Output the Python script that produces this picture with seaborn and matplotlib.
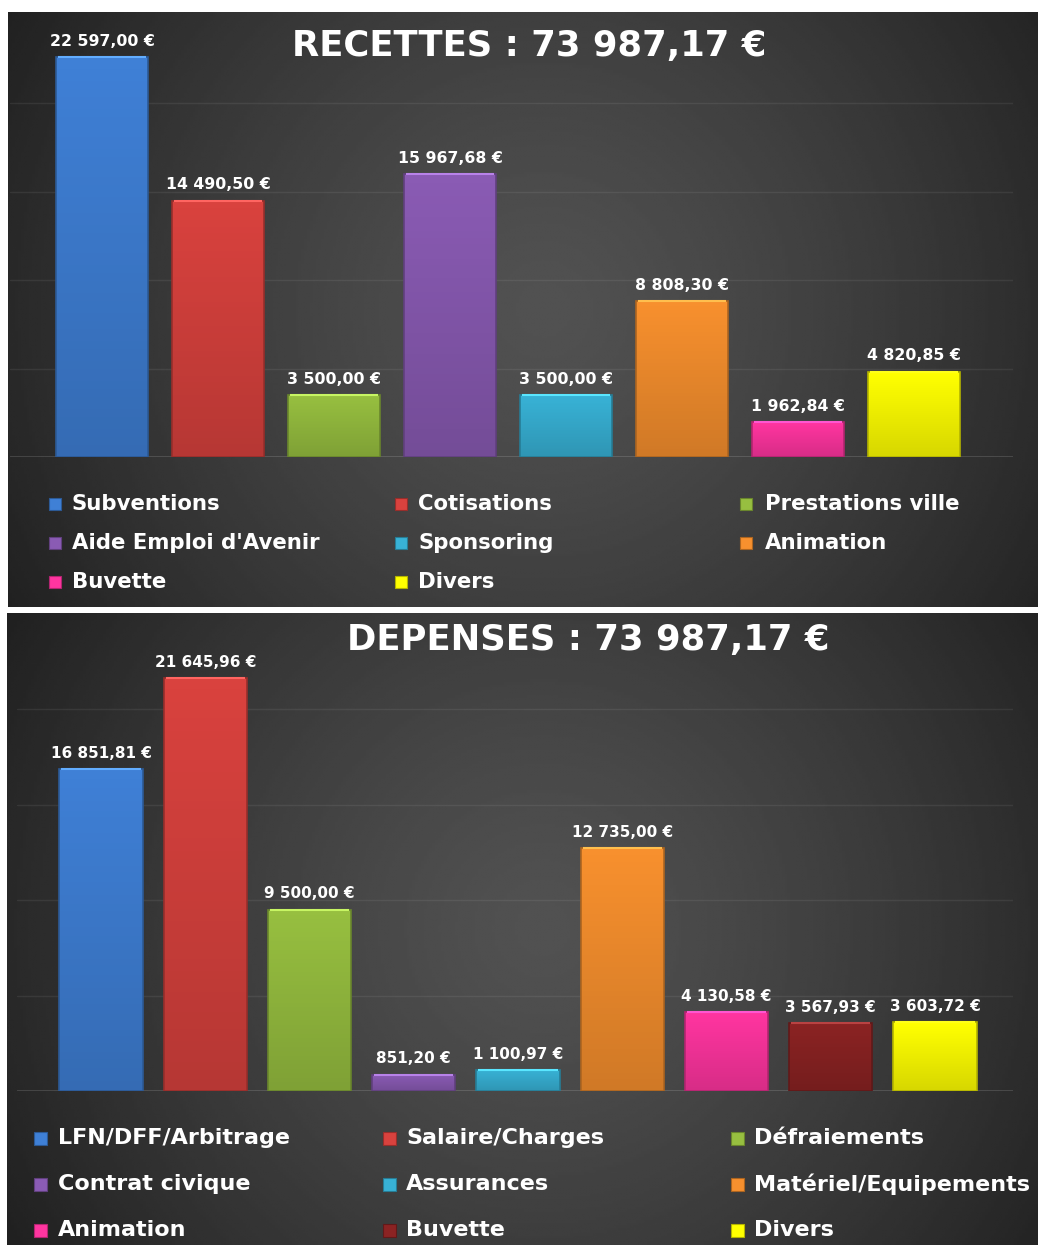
import numpy as np
import pandas as pd
import matplotlib
matplotlib.use("Agg")
import matplotlib.pyplot as plt
import seaborn as sns
from matplotlib.patches import Rectangle
from matplotlib.colors import to_rgb, LinearSegmentedColormap

# ---------------- data ----------------
rec_title = "RECETTES : 73 987,17 €"
rec_cats = ["Subventions", "Cotisations", "Prestations ville", "Aide Emploi d'Avenir",
            "Sponsoring", "Animation", "Buvette", "Divers"]
rec_vals = [22597.00, 14490.50, 3500.00, 15967.68, 3500.00, 8808.30, 1962.84, 4820.85]
rec_colors = ["#3F80D6", "#D9423E", "#97BF40", "#8A5BB4", "#38B2D6", "#F7902E", "#FF35A0", "#FFFF00"]

dep_title = "DEPENSES : 73 987,17 €"
dep_cats = ["LFN/DFF/Arbitrage", "Salaire/Charges", "Défraiements", "Contrat civique",
            "Assurances", "Matériel/Equipements", "Animation", "Buvette", "Divers"]
dep_vals = [16851.81, 21645.96, 9500.00, 851.20, 1100.97, 12735.00, 4130.58, 3567.93, 3603.72]
dep_colors = ["#3F80D6", "#D9423E", "#97BF40", "#8A5BB4", "#38B2D6", "#F7902E", "#FF35A0", "#8B2323", "#FFFF00"]

grid_ticks = [0, 5000, 10000, 15000, 20000]

sns.set_theme(style="white")
FONT = ["DejaVu Sans"]
plt.rcParams["font.family"] = FONT

W, H = 1038, 1245
fig = plt.figure(figsize=(W / 100, H / 100), dpi=100, facecolor="white")


def px_axes(x0, y0, x1, y1, z=1):
    ax = fig.add_axes([x0 / W, 1 - y1 / H, (x1 - x0) / W, (y1 - y0) / H])
    ax.set_zorder(z)
    return ax


def fx(x):
    return x / W


def fy(y):
    return 1 - y / H


def background(x0, y0, x1, y1):
    ax = px_axes(x0, y0, x1, y1, z=0)
    ny, nx = 240, 360
    yy, xx = np.mgrid[0:1:ny * 1j, 0:1:nx * 1j]
    w, h = x1 - x0, y1 - y0
    d = np.sqrt(((xx - 0.52) * w) ** 2 + ((yy - 0.5) * h) ** 2) / (0.62 * w)
    d = np.clip(d, 0, 1)
    val = 0.32 - (0.32 - 0.12) * d ** 1.3
    ax.imshow(val, cmap="gray", vmin=0, vmax=1, aspect="auto", extent=[0, 1, 0, 1],
              interpolation="bilinear")
    ax.set_axis_off()


def fmt(v):
    s = f"{v:,.2f}"
    return s.replace(",", " ").replace(".", ",") + " €"


shade = LinearSegmentedColormap.from_list("g", [(0, 0, 0, 0.0), (0, 0, 0, 0.16)])


def draw_panel(cats, vals, colors, title, box, plot_box, centers, legend_rows,
               legend_cols, title_xy, title_size, label_size, legend_size, marker):
    background(*box)
    ax = px_axes(*plot_box, z=1)
    ax.patch.set_alpha(0)
    df = pd.DataFrame({"cat": cats, "val": vals})
    sns.barplot(data=df, x="cat", y="val", hue="cat", palette=colors, width=0.8,
                legend=False, ax=ax, saturation=1, edgecolor="none")
    n = len(cats)
    x0p, _, x1p, _ = plot_box
    c0, step = centers
    xmin = -(c0 - x0p) / step
    xmax = (n - 1) + (x1p - (c0 + step * (n - 1))) / step
    ax.set_yticks(grid_ticks)
    ax.set_yticklabels([])
    ax.set_xticks([])
    ax.set_xlabel("")
    ax.set_ylabel("")
    for s in ax.spines.values():
        s.set_visible(False)
    ax.grid(axis="y", color="white", alpha=0.07, linewidth=1)
    ax.axhline(0, color="white", alpha=0.15, linewidth=1.2, zorder=0.5)
    grad = np.linspace(0, 1, 100).reshape(-1, 1)
    for p, c in zip(list(ax.patches), colors):
        bx, by, bw, bh = p.get_x(), p.get_y(), p.get_width(), p.get_height()
        im = ax.imshow(grad, cmap=shade, extent=[bx, bx + bw, by, by + bh],
                       aspect="auto", zorder=3, origin="upper")
        im.set_clip_path(p)
        ax.add_patch(Rectangle((bx, by), bw, bh, facecolor="none",
                               edgecolor=tuple(np.array(to_rgb(c)) * 0.7), linewidth=1.2, zorder=4))
        ax.plot([bx + 0.02, bx + bw - 0.02], [by + bh, by + bh],
                color=tuple(np.minimum(np.array(to_rgb(c)) * 1.15 + 0.1, 1)),
                linewidth=1.5, zorder=5, solid_capstyle="butt")
    ax.set_xlim(xmin, xmax)
    ax.set_ylim(0, 25000)
    for i, v in enumerate(vals):
        ax.annotate(fmt(v), (i, v), xytext=(0, 6), textcoords="offset points",
                    ha="center", va="bottom", color="white", fontsize=label_size,
                    fontweight="bold", zorder=6)
    fig.text(fx(title_xy[0]), fy(title_xy[1]), title, ha="center", va="center",
             color="white", fontsize=title_size, fontweight="bold", zorder=5)
    msz = marker
    for i, (cat, c) in enumerate(zip(cats, colors)):
        r, col = divmod(i, 3)
        mx, tx = legend_cols[col]
        yc = legend_rows[r]
        rect = Rectangle((fx(mx), fy(yc + msz / 2)), msz / W, msz / H,
                         transform=fig.transFigure, facecolor=c,
                         edgecolor=tuple(np.array(to_rgb(c)) * 0.7), linewidth=0.8, zorder=5)
        fig.add_artist(rect)
        fig.text(fx(tx), fy(yc), cat, ha="left", va="center", color="white",
                 fontsize=legend_size, fontweight="bold", zorder=5)


draw_panel(rec_cats, rec_vals, rec_colors, rec_title,
           box=(8, 12, 1038, 607), plot_box=(10, 14.5, 1013, 457),
           centers=(102, 116), legend_rows=[504, 543, 582],
           legend_cols=[(49, 72), (395, 418), (740, 765)],
           title_xy=(529, 46), title_size=25.5, label_size=11.3, legend_size=15.3,
           marker=12)

draw_panel(dep_cats, dep_vals, dep_colors, dep_title,
           box=(7, 613, 1038, 1245), plot_box=(17, 614, 1013, 1091),
           centers=(101, 104.25), legend_rows=[1138, 1184, 1230],
           legend_cols=[(34, 58), (383, 406), (731, 754)],
           title_xy=(588, 640), title_size=25.5, label_size=11, legend_size=16,
           marker=13)

fig.savefig("out.png", dpi=100, facecolor="white")
